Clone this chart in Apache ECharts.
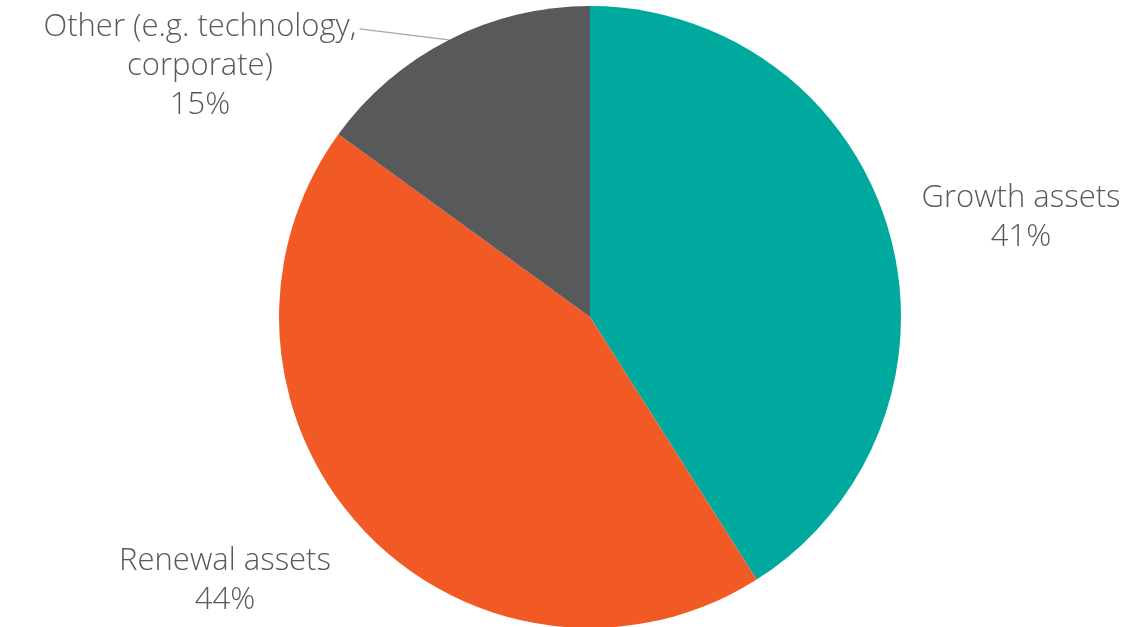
<!DOCTYPE html>
<html>
<head>
<meta charset="utf-8">
<script src="https://cdn.jsdelivr.net/npm/echarts@6/dist/echarts.min.js"></script>
<style>
  html, body { margin: 0; padding: 0; background: #fff; }
  #chart { width: 1135px; height: 627px; }
</style>
</head>
<body>
<div id="chart"></div>
<script>
const categories = ['Growth assets', 'Renewal assets', 'Other (e.g. technology,\ncorporate)'];
const shares = [41, 44, 15];
const colors = ['#00A99D', '#F15A24', '#58595B'];

// where each label sits (centre of the text block)
const labelSpots = [
  { x: 1021, y: 218 },
  { x: 225, y: 581 },
  { x: 200, y: 66 }
];
const lineH = 39;

const chart = echarts.init(document.getElementById('chart'));

chart.setOption({
  animation: false,
  series: [{
    type: 'pie',
    center: [590, 317],
    radius: ['0%', 311],
    startAngle: 90,
    clockwise: true,
    data: categories.map((name, i) => ({
      name: name,
      value: shares[i],
      itemStyle: { color: colors[i] },
      labelLine: { show: i === 2 }
    })),
    label: {
      show: true,
      position: 'outside',
      formatter: p => p.name + '\n' + p.value + '%',
      fontFamily: 'Open Sans',
      fontWeight: 300,
      fontSize: 31,
      lineHeight: lineH,
      color: '#595959',
      align: 'center'
    },
    labelLine: {
      show: true,
      length: 10,
      length2: 10,
      lineStyle: { color: '#A6A6A6', width: 1.3 }
    },
    labelLayout: p => {
      const s = labelSpots[p.dataIndex];
      const out = { x: s.x, y: s.y, align: 'center', verticalAlign: 'middle' };
      if (p.labelLinePoints) {
        const r = p.labelRect;
        out.labelLinePoints = [
          p.labelLinePoints[0],
          [s.x + r.width / 2 + 3, s.y - r.height / 2 + lineH * 0.55]
        ];
      }
      return out;
    }
  }]
});
</script>
</body>
</html>
